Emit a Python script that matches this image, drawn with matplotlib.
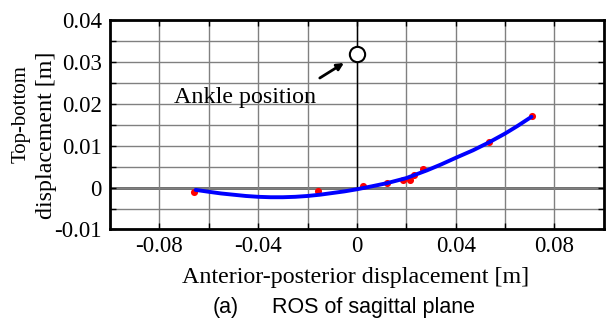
import matplotlib
matplotlib.use('Agg')
import matplotlib.pyplot as plt

# measured points (red)
pts_x = [-0.0661, -0.0159, 0.0023, 0.0122, 0.0186, 0.0216, 0.0232, 0.0268, 0.0534, 0.0708]
pts_y = [-0.0011, -0.0007, 0.0003, 0.0010, 0.0019, 0.0019, 0.0031, 0.0045, 0.0108, 0.0170]

# fitted curve (blue)
fit_x = [-0.0653, -0.060, -0.055, -0.050, -0.045, -0.040, -0.035, -0.030, -0.025, -0.020,
         -0.015, -0.010, -0.005, 0.0, 0.006, 0.0121, 0.0199, 0.0283, 0.034, 0.040,
         0.047, 0.0535, 0.060, 0.065, 0.0707]
fit_y = [-0.00055, -0.0010, -0.0014, -0.0017, -0.0020, -0.0022, -0.0023, -0.0023, -0.0022, -0.0020,
         -0.0017, -0.0013, -0.0009, -0.0004, 0.0003, 0.00105, 0.00225, 0.0041, 0.0055, 0.0071,
         0.0089, 0.0108, 0.0129, 0.0147, 0.0169]

ankle_x = 0.0
ankle_y = 0.032

serif = 'Liberation Serif'

fig = plt.figure(figsize=(6.06, 3.23), dpi=100)
ax = fig.add_axes([0.1815, 0.2895, 0.815, 0.6486])

ax.set_xlim(-0.1, 0.1)
ax.set_ylim(-0.01, 0.04)
ax.set_xticks([-0.08, -0.04, 0, 0.04, 0.08])
ax.set_xticklabels(['-0.08', '-0.04', '0', '0.04', '0.08'])
ax.set_yticks([-0.01, 0, 0.01, 0.02, 0.03, 0.04])
ax.set_yticklabels(['-0.01', '0', '0.01', '0.02', '0.03', '0.04'])
ax.set_xticks([-0.06, -0.02, 0.02, 0.06], minor=True)
ax.set_yticks([-0.005, 0.005, 0.015, 0.025, 0.035], minor=True)
ax.grid(True, which='both', color='#808080', lw=1.0)
ax.tick_params(which='both', direction='in', top=True, right=True, length=4, width=1)
ax.tick_params(axis='x', labelsize=16.5, pad=5)
ax.tick_params(axis='y', labelsize=16.5, pad=6)
for lab in ax.get_xticklabels() + ax.get_yticklabels():
    lab.set_fontfamily(serif)
for s in ax.spines.values():
    s.set_linewidth(2)

ax.axhline(0, color='#606060', lw=2, zorder=1.5)
ax.plot([0, 0], [0, 0.04], color='black', lw=1, zorder=2)

ax.plot(fit_x, fit_y, color='#0000ff', lw=2.8, zorder=3,
        solid_capstyle='round', solid_joinstyle='round')
ax.scatter(pts_x, pts_y, s=26, color='#ff0000', zorder=2.5, lw=0)
ax.plot(ankle_x, ankle_y, 'o', ms=11, mfc='white', mec='black', mew=1.5, zorder=4)

ax.annotate('', xy=(-0.0043, 0.0301), xytext=(-0.016, 0.0258),
            arrowprops=dict(arrowstyle='-|>', color='black', lw=2, mutation_scale=10))
ax.text(-0.0742, 0.0216, 'Ankle position', fontsize=17.3, family=serif, va='center', ha='left')

fig.text(356 / 606, 1 - 278 / 323, 'Anterior-posterior displacement [m]', fontsize=17.3,
         family=serif, ha='center', va='center')
fig.text(21 / 606, 1 - 114 / 323, 'Top-bottom', fontsize=15, family=serif,
         ha='center', va='center', rotation=90)
fig.text(47 / 606, 1 - 135 / 323, 'displacement [m]', fontsize=17.3, family=serif,
         ha='center', va='center', rotation=90)
fig.text(213 / 606, 1 - 308 / 323, '(a)', fontsize=15.5, family='Liberation Sans',
         ha='left', va='center')
fig.text(272 / 606, 1 - 308 / 323, 'ROS of sagittal plane', fontsize=15.5,
         family='Liberation Sans', ha='left', va='center')

fig.savefig('out.png', dpi=100)
